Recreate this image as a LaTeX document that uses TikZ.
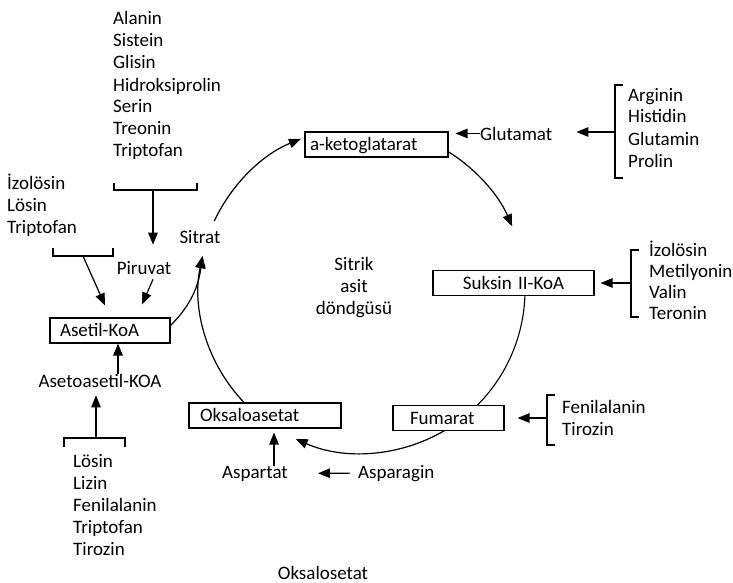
\documentclass[tikz,border=0pt]{standalone}
\usepackage{fontspec}
\setmainfont{Carlito}
\usetikzlibrary{arrows.meta,positioning,calc}
\newcommand{\fs}{\fontsize{19}{22}\selectfont}
\tikzset{box/.style={draw,line width=1.1pt,minimum height=25pt,inner ysep=0pt,align=left,font=\fs,text height=12.4pt,text depth=0pt},txt/.style={inner sep=0pt,font=\fs,align=left},arr/.style={-{Triangle[length=12pt,width=9.5pt]},line width=1.2pt},brk/.style={line width=1.2pt}}

\begin{document}
\begin{tikzpicture}[x=1pt,y=1pt]
\useasboundingbox (0,0) rectangle (733,-583);
\coordinate (cyc) at (362,-290);
\coordinate (sitin) at ($(cyc)+(168:163)$);
% boxes of the cycle
\node[box,text width=133pt,inner xsep=5pt] (aketo) at (376.5,-144.5) {a-ketoglatarat};
\node[box,text width=151pt,inner xsep=5pt,align=center] (suksin) at (513.5,-283) {Suksin II-KoA};
\node[box,text width=77pt,inner xsep=17pt] (fumarat) at (448.5,-418) {Fumarat};
\node[box,text width=130pt,inner xsep=11pt] (oksalo) at (265,-415.5) {Oksaloasetat};
\node[box,text width=100pt,inner xsep=10pt] (asetil) at (110,-330.5) {Asetil-KoA};
% single texts
\node[txt,anchor=base] (sitrat) at (200,-243) {Sitrat};
\node[txt,anchor=base] (piruvat) at (144,-274) {Piruvat};
\node[txt,anchor=base] (asetoaset) at (100,-387) {Asetoasetil-KOA};
\node[txt,anchor=base west] (glutamat) at (480,-140) {Glutamat};
\node[txt,anchor=base] (aspartat) at (255,-478) {Aspartat};
\node[txt,anchor=base west] (asparagin) at (358,-478) {Asparagin};
\node[txt,anchor=base] (oksalosetat) at (323,-579) {Oksalosetat};
% multi-line nodes: base = last line
\node[txt,anchor=base,align=center] (sitrik) at (354,-314) {Sitrik\\asit\\döndgüsü};
% amino acid lists
\node[txt,anchor=base west] (lstA) at (113,-157) {Alanin\\Sistein\\Glisin\\Hidroksiprolin\\Serin\\Treonin\\Triptofan};
\node[txt,anchor=base west] (lstB) at (7,-233) {İzolösin\\Lösin\\Triptofan};
\node[txt,anchor=base west] (lstC) at (73,-555) {Lösin\\Lizin\\Fenilalanin\\Triptofan\\Tirozin};
\node[txt,anchor=base west] (lstD) at (628,-167) {Arginin\\Histidin\\Glutamin\\Prolin};
\node[txt,anchor=base west,font={\fontsize{19}{20.8}\selectfont}] (lstE) at (649,-319) {İzolösin\\Metilyonin\\Valin\\Teronin};
\node[txt,anchor=base west] (lstF) at (562,-435) {Fenilalanin\\Tirozin};
% brackets
\draw[brk] (114,-183) |- (197,-190) -- (197,-183);
\coordinate (b1) at (153,-190);
\draw[brk] (53,-248) |- (113,-256) -- (113,-248);
\coordinate (b2) at (83,-256);
\draw[brk] (64,-447) |- (125,-438) -- (125,-447);
\coordinate (b3) at (96,-438);
\draw[brk] (623,-85) -| (615,-178) -- (623,-178);
\coordinate (b4) at (615,-132);
\draw[brk] (639,-250) -| (631,-317) -- (639,-317);
\coordinate (b5) at (631,-283);
\draw[brk] (555,-395) -| (547,-445) -- (555,-445);
\coordinate (b6) at (547,-418);
% feeding arrows
\draw[arr,shorten >=16pt] (b1) -- (b1 |- piruvat.north);
\draw[arr] (b2) -- ([xshift=-5pt,yshift=12pt]asetil.north);
\draw[arr] ([xshift=9pt,yshift=-5pt]piruvat.south) -- ([xshift=32pt,yshift=13pt]asetil.north);
\draw[arr] ([xshift=18pt]asetoaset.north) coordinate (aa) -- (aa |- asetil.south);
\draw[arr,shorten >=8pt] (b3) -- (b3 |- asetoaset.south);
\draw[arr,shorten >=24pt] (b4) -- (b4 -| glutamat.east);
\draw[arr,shorten >=7pt] (glutamat.west) -- (glutamat.west -| aketo.east);
\draw[arr,shorten >=6pt] (b5) -- (b5 -| suksin.east);
\draw[arr,shorten >=13pt] (b6) -- (b6 -| fumarat.east);
\draw[arr,shorten >=4pt] ([xshift=19pt]aspartat.north) coordinate (ap) -- (ap |- oksalo.south);
\draw[arr,shorten <=8pt,shorten >=30pt] (asparagin.west) -- (aspartat.east);
% the cycle
\draw[arr] ($(cyc)+(155:163)$) arc[start angle=155,end angle=112,radius=163];
\draw[arr] ($(cyc)+(58:163)$) arc[start angle=58,end angle=23,radius=163];
\draw[line width=1.1pt] ($(cyc)+(-2:163)$) arc[start angle=-2,end angle=-45,radius=163];
\draw[arr] ($(cyc)+(-59.5:163)$) arc[start angle=-59.5,end angle=-114,radius=163];
\draw[arr] ($(cyc)+(224:163)$) arc[start angle=224,end angle=168,radius=163];
\draw[arr] ([yshift=5pt]asetil.east) to[out=45,in=262] (sitin);
\end{tikzpicture}
\end{document}
